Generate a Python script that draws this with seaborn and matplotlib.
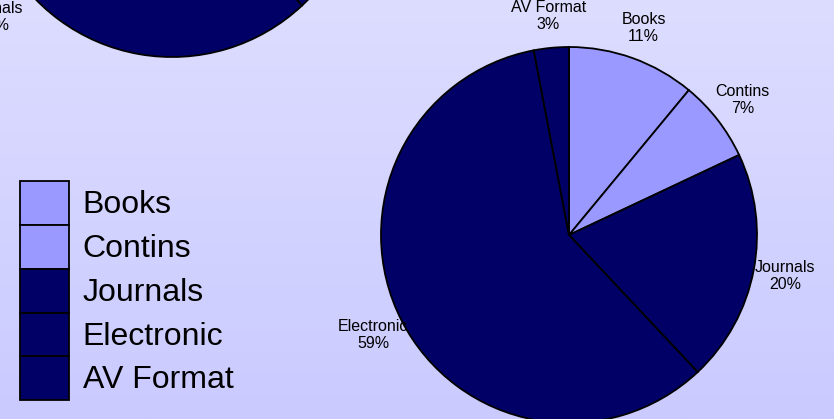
import matplotlib
matplotlib.use("Agg")
import matplotlib.pyplot as plt
import matplotlib.patches as mpatches
import numpy as np
import seaborn as sns

# chart data
categories = ["Books", "Contins", "Journals", "Electronic", "AV Format"]
shares = [11, 7, 20, 59, 3]
slice_colors = ["#9999ff", "#9999ff", "#000066", "#000066", "#000066"]

sns.set_theme(style="white")
plt.rcParams["font.family"] = ["Liberation Sans", "DejaVu Sans"]
plt.rcParams["text.color"] = "black"

W, H = 834, 419
fig = plt.figure(figsize=(W / 100, H / 100), dpi=100)

# background gradient
bg = fig.add_axes([0, 0, 1, 1], zorder=-10)
top = np.array([221, 221, 255]) / 255
bottom = np.array([202, 202, 255]) / 255
t = np.linspace(0, 1, 256)[:, None]
grad = (top * (1 - t) + bottom * t)[:, None, :]
bg.imshow(grad, aspect="auto", extent=[0, 1, 0, 1])
bg.set_axis_off()


def pie_axes(cx, cy, r):
    ax = fig.add_axes([(cx - r) / W, (H - cy - r) / H, 2 * r / W, 2 * r / H])
    ax.set_facecolor("none")
    return ax


wedge_style = {"edgecolor": "black", "linewidth": 1.3}
label_style = {"ha": "center", "va": "center", "fontsize": 11.5,
               "linespacing": 1.12, "color": "black"}

# clipped pie at the top left
ax0 = pie_axes(172, -133, 190)
ax0.pie(shares, colors=slice_colors, startangle=90, counterclock=False,
        wedgeprops=wedge_style, radius=1)
ax0.set_xlim(-1, 1)
ax0.set_ylim(-1, 1)
fig.text(-7 / W, 1 - 17 / H, f"{categories[2]}\n{shares[2]}%", **label_style)

# main pie
ax = pie_axes(569, 235, 188)
labels = [f"{c}\n{v}%" for c, v in zip(categories, shares)]
ax.pie(shares, colors=slice_colors, startangle=90, counterclock=False,
       labels=labels, labeldistance=1.17, wedgeprops=wedge_style, radius=1,
       textprops=label_style)
ax.set_xlim(-1, 1)
ax.set_ylim(-1, 1)

# legend
handles = [mpatches.Patch(facecolor=c, edgecolor="black", linewidth=1.3)
           for c in slice_colors]
fig.legend(handles, categories, loc="lower left",
           bbox_to_anchor=(20 / W, 1 - 400 / H), frameon=False,
           fontsize=23, labelspacing=0, handleheight=1.73, handlelength=1.54,
           handletextpad=0.42, borderpad=0, borderaxespad=0)

fig.savefig("out.png", dpi=100)
